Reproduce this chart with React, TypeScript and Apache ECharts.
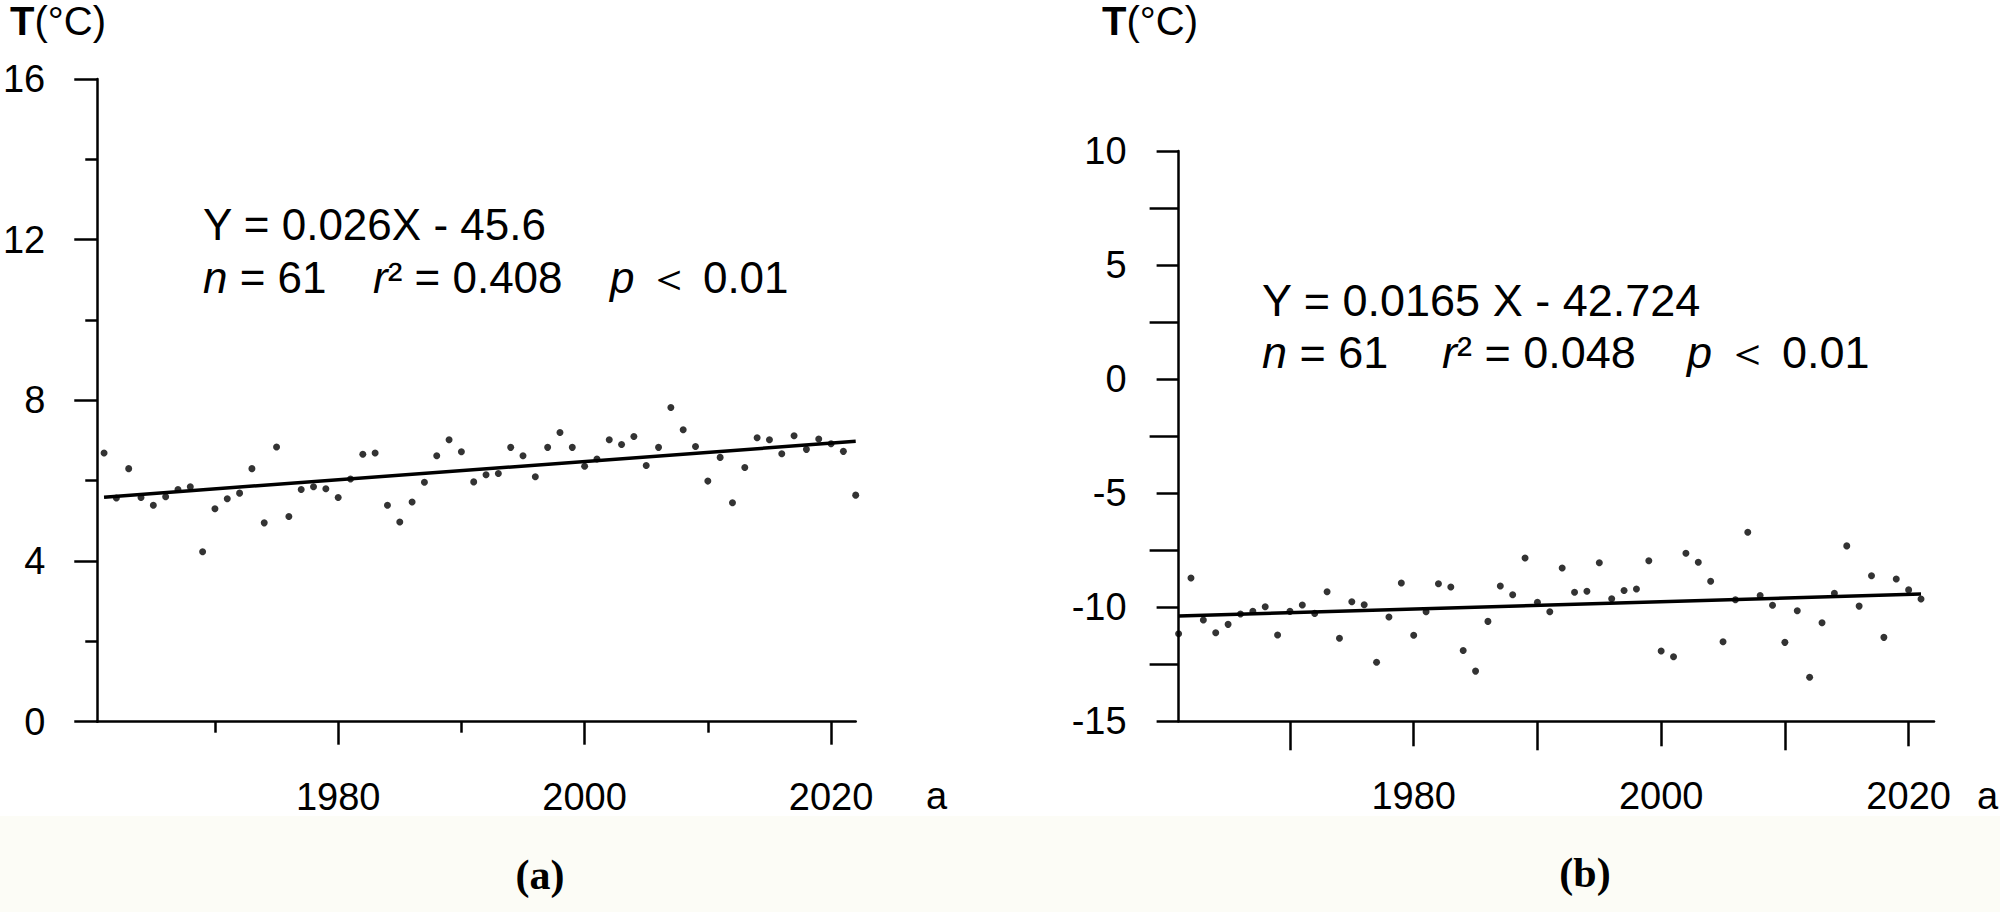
import React, { useEffect, useRef } from "react";
import * as echarts from "echarts";

// ---------- data ----------
const startYearA = 1961;
const tempA = [
  6.69, 5.57, 6.3, 5.58, 5.39, 5.6, 5.78, 5.85, 4.23, 5.3,
  5.55, 5.69, 6.3, 4.95, 6.84, 5.11, 5.78, 5.85, 5.8, 5.58,
  6.04, 6.66, 6.69, 5.39, 4.97, 5.47, 5.96, 6.62, 7.02, 6.72,
  5.97, 6.15, 6.18, 6.83, 6.62, 6.1, 6.83, 7.2, 6.83, 6.36,
  6.54, 7.02, 6.9, 7.1, 6.38, 6.83, 7.82, 7.27, 6.85, 5.99,
  6.58, 5.45, 6.33, 7.07, 7.02, 6.67, 7.12, 6.78, 7.04, 6.92,
  6.73, 5.64,
];
const trendA = [
  [1961, 5.59],
  [2022, 6.98],
];

const startYearB = 1961;
const tempB = [
  -11.16, -8.72, -10.56, -11.12, -10.75, -10.3, -10.18, -9.98, -11.22, -10.18,
  -9.9, -10.27, -9.32, -11.36, -9.76, -9.89, -12.41, -10.43, -8.94, -11.23,
  -10.2, -8.97, -9.11, -11.9, -12.8, -10.62, -9.07, -9.45, -7.84, -9.78,
  -10.2, -8.28, -9.34, -9.3, -8.05, -9.63, -9.27, -9.2, -7.96, -11.92,
  -12.17, -7.63, -8.03, -8.86, -11.51, -9.67, -6.71, -9.49, -9.91, -11.54,
  -10.15, -13.07, -10.68, -9.39, -7.31, -9.95, -8.62, -11.32, -8.76, -9.24,
  -9.64,
];
const trendB = [
  [1961, -10.38],
  [2021, -9.42],
];

const majorYears = [1980, 2000, 2020];
const minorYears = [1970, 1990, 2010];

const eqA = "Y = 0.026X - 45.6";
const statsA = { n: "61", r2: "0.408", p: "0.01" };
const eqB = "Y = 0.0165 X - 42.724";
const statsB = { n: "61", r2: "0.048", p: "0.01" };

// ---------- styles ----------
const FONT = '"Liberation Sans", Arial, sans-serif';
const SERIF = '"Liberation Serif", "Times New Roman", serif';
const BLACK = "#000";
const axisLineStyle = { color: BLACK, width: 2.5 };
const labelStyle = { color: BLACK, fontSize: 38, fontFamily: FONT };

function xAxes(grid: number, min: number, max: number, majorLen: number, minorLen: number) {
  return [
    {
      type: "value",
      gridIndex: grid,
      min,
      max,
      position: "bottom",
      axisLine: { show: true, onZero: false, lineStyle: axisLineStyle },
      axisTick: { show: true, customValues: majorYears, length: majorLen, lineStyle: axisLineStyle },
      axisLabel: {
        show: true,
        customValues: majorYears,
        margin: 56,
        formatter: (v: number) => String(v),
        ...labelStyle,
      },
      splitLine: { show: false },
    },
    {
      type: "value",
      gridIndex: grid,
      min,
      max,
      position: "bottom",
      axisLine: { show: false, onZero: false },
      axisTick: { show: true, customValues: minorYears, length: minorLen, lineStyle: axisLineStyle },
      axisLabel: { show: false },
      splitLine: { show: false },
    },
  ];
}

function textEl(text: string, x: number, y: number, fontSize: number, extra: any = {}) {
  return {
    type: "text",
    x,
    y,
    silent: true,
    style: {
      text,
      fill: BLACK,
      fontSize,
      fontFamily: FONT,
      align: "left",
      verticalAlign: "middle",
      ...extra,
    },
  };
}

function richStats(
  s: { n: string; r2: string; p: string },
  x0: number,
  y: number,
  fs: number,
  rOff: number,
  pOff: number
) {
  const rich = {
    i: { fontStyle: "italic", fontSize: fs, fontFamily: FONT, fill: BLACK },
    t: { fontSize: fs, fontFamily: FONT, fill: BLACK },
  };
  return [
    textEl("{i|n}{t| = " + s.n + "}", x0, y, fs, { rich }),
    textEl("{i|r}{t|² = " + s.r2 + "}", x0 + rOff, y, fs, { rich }),
    textEl("{i|p}{t| ＜ " + s.p + "}", x0 + pOff, y, fs, { rich }),
  ];
}

function titleEl(x: number, y: number) {
  return textEl("{b|T}{n|(°C)}", x, y, 40, {
    lineHeight: 36,
    rich: {
      b: { fontWeight: "bold", fontSize: 40, fontFamily: FONT, fill: BLACK, lineHeight: 36 },
      n: { fontSize: 40, fontFamily: FONT, fill: BLACK, lineHeight: 36 },
    },
  });
}

export default function App() {
  const ref = useRef<HTMLDivElement>(null);

  useEffect(() => {
    if (!ref.current) return;
    const chart = echarts.init(ref.current, null, { renderer: "svg" });

    const dataA = tempA.map((v, i) => [startYearA + i, v]);
    const dataB = tempB.map((v, i) => [startYearB + i, v]);

    const option: any = {
      animation: false,
      backgroundColor: "#ffffff",
      grid: [
        { left: 94.3, top: 79, width: 761.4, height: 642.7 },
        { left: 1178.6, top: 151, width: 755.4, height: 570.3 },
      ],
      xAxis: [...xAxes(0, 1960.45, 2022, 23, 11), ...xAxes(1, 1961, 2022.05, 25, 29)],
      yAxis: [
        {
          type: "value",
          gridIndex: 0,
          min: 0,
          max: 16,
          interval: 4,
          axisLine: { show: true, onZero: false, lineStyle: axisLineStyle },
          axisTick: { show: true, length: 23, lineStyle: axisLineStyle },
          minorTick: { show: true, splitNumber: 2, length: 12, lineStyle: axisLineStyle },
          axisLabel: { margin: 52, ...labelStyle },
          splitLine: { show: false },
        },
        {
          type: "value",
          gridIndex: 1,
          min: -15,
          max: 10,
          interval: 5,
          axisLine: { show: true, onZero: false, lineStyle: axisLineStyle },
          axisTick: { show: true, length: 22, lineStyle: axisLineStyle },
          minorTick: { show: true, splitNumber: 2, length: 29, lineStyle: axisLineStyle },
          axisLabel: { margin: 52, ...labelStyle },
          splitLine: { show: false },
        },
      ],
      series: [
        {
          type: "scatter",
          xAxisIndex: 0,
          yAxisIndex: 0,
          data: dataA,
          symbolSize: 7,
          itemStyle: { color: BLACK },
        },
        {
          type: "line",
          xAxisIndex: 0,
          yAxisIndex: 0,
          data: trendA,
          symbol: "none",
          lineStyle: { color: BLACK, width: 3.5 },
        },
        {
          type: "scatter",
          xAxisIndex: 2,
          yAxisIndex: 1,
          data: dataB,
          symbolSize: 7,
          itemStyle: { color: BLACK },
        },
        {
          type: "line",
          xAxisIndex: 2,
          yAxisIndex: 1,
          data: trendB,
          symbol: "none",
          lineStyle: { color: BLACK, width: 3.5 },
        },
      ],
      graphic: [
        {
          type: "rect",
          silent: true,
          z: -10,
          shape: { x: 0, y: 816, width: 2000, height: 96 },
          style: { fill: "#fcfcf6" },
        },
        titleEl(10, 21),
        titleEl(1102, 21),
        textEl(eqA, 203, 224, 44),
        ...richStats(statsA, 203, 277, 44, 170, 407),
        textEl(eqB, 1262, 300, 45),
        ...richStats(statsB, 1262, 352, 45, 180, 425),
        textEl("a", 926, 796, 38),
        textEl("a", 1977, 796, 38),
        textEl("(a)", 540, 875, 42, { align: "center", fontFamily: SERIF, fontWeight: "bold" }),
        textEl("(b)", 1585, 873, 42, { align: "center", fontFamily: SERIF, fontWeight: "bold" }),
      ],
    };

    chart.setOption(option);
    return () => chart.dispose();
  }, []);

  return (
    <div
      ref={ref}
      style={{ position: "fixed", left: 0, top: 0, width: 2000, height: 912, background: "#fff" }}
    />
  );
}
